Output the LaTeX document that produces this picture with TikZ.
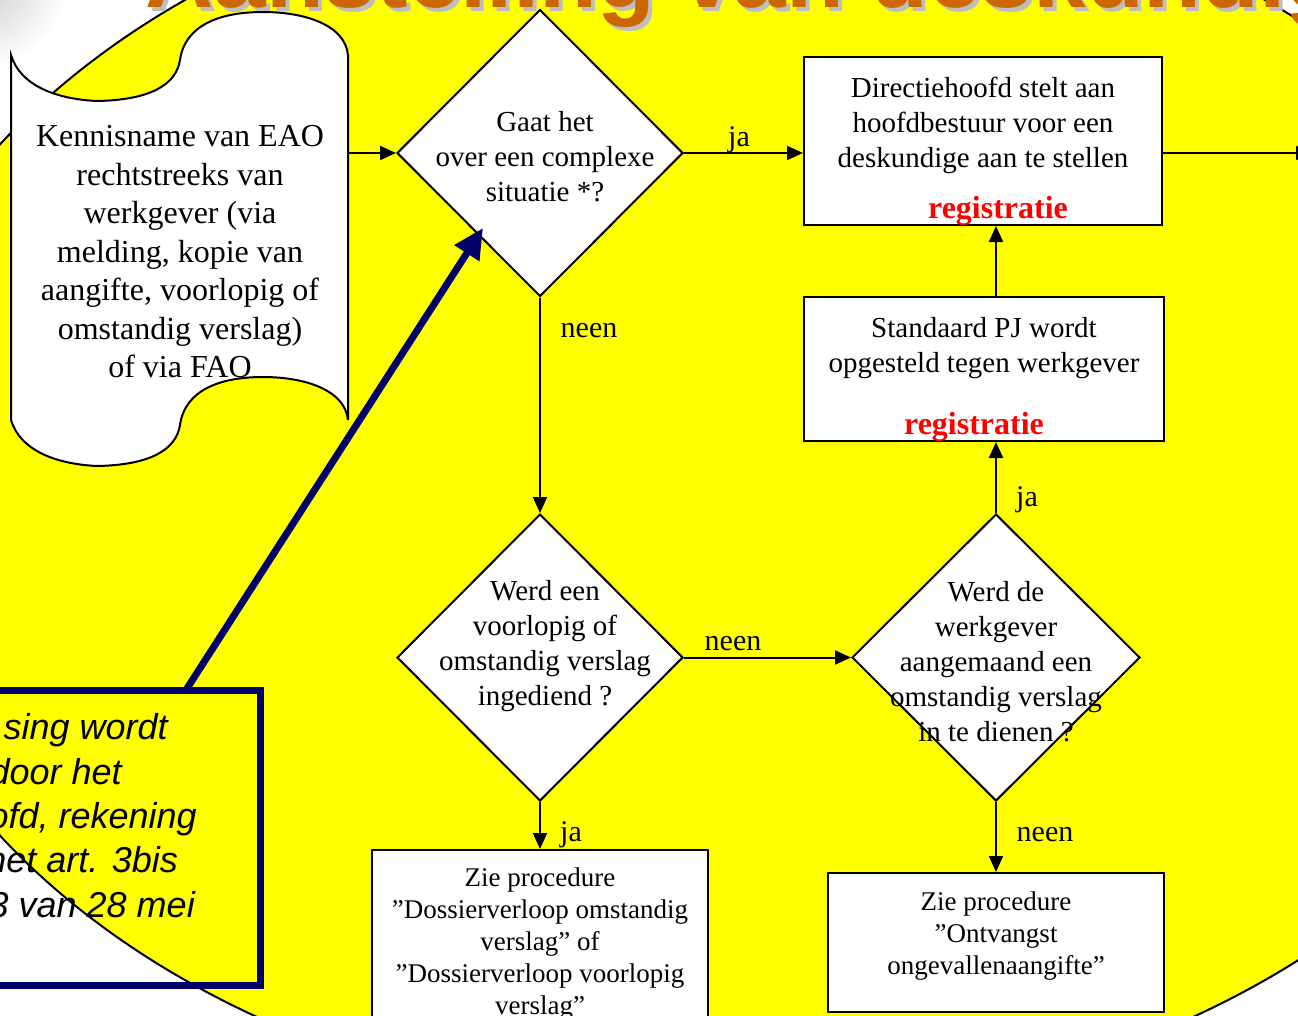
\documentclass[tikz,border=0pt]{standalone}
\usepackage{fontspec}
\setmainfont{Liberation Serif}
\newfontfamily\notesans{Liberation Sans}
\usetikzlibrary{shapes.geometric,arrows.meta}
\definecolor{flowyellow}{RGB}{255,255,0}
\definecolor{titleorange}{RGB}{204,102,0}
\definecolor{shadowgray}{RGB}{190,190,190}
\definecolor{notenavy}{RGB}{0,0,102}
\begin{document}
\begin{tikzpicture}[x=1pt,y=-1pt,
  outlined/.style={draw=black,line width=2pt,fill=white},
  decision/.style={outlined,diamond,inner sep=0pt,minimum width=286pt,minimum height=287pt},
  stepbox/.style={outlined,rectangle,inner sep=0pt},
  flowtext/.style={align=center,inner sep=0pt,font=\fontsize{29}{35}\selectfont},
  smalltext/.style={align=center,inner sep=0pt,font=\fontsize{27}{32}\selectfont},
  regtext/.style={anchor=base,inner sep=0pt,text=red,font=\bfseries\fontsize{32}{38}\selectfont},
  edgelabel/.style={anchor=base,inner sep=0pt,font=\fontsize{30}{36}\selectfont},
  flow/.style={draw=black,line width=2pt,-{Triangle[length=16pt,width=14pt]}},
  notetext/.style={anchor=base east,inner sep=0pt,font=\notesans\itshape\fontsize{36}{44}\selectfont},
  titletext/.style={anchor=base west,inner sep=0pt,font=\notesans\bfseries\fontsize{94.6}{100}\selectfont}
]
\useasboundingbox (0,0) rectangle (1298,1015);
\clip (0,0) rectangle (1298,1015);
\fill[white] (0,0) rectangle (1298,1015);

% soft grey corner
\shade[inner color=black!22,outer color=white] (-25,-25) circle [radius=95pt];

% yellow backdrop
\draw[fill=flowyellow,line width=2pt] (725,490) ellipse [x radius=870pt,y radius=625pt];

% heading
\node (titleshadow) [titletext,text=shadowgray] at (149,11) {Aanstelling van deskundige};
\node (title) [titletext,text=titleorange] at (145,7) {Aanstelling van deskundige};

% punched-tape start symbol
\node (doc) [rectangle,inner sep=0pt,minimum width=337pt,minimum height=365pt] at (179.5,237.5) {};
\draw[outlined]
  (11,55) .. controls (20,85) and (55,99) .. (97,101)
  .. controls (150,100) and (176,85) .. (180,60)
  .. controls (185,25) and (220,12) .. (263,12)
  .. controls (305,12) and (345,25) .. (348,55)
  -- (348,420)
  .. controls (345,390) and (305,377) .. (263,377)
  .. controls (220,377) and (185,390) .. (180,425)
  .. controls (176,450) and (150,465) .. (97,466)
  .. controls (55,464) and (20,450) .. (11,420)
  -- cycle;
\node (doctext) [align=center,inner sep=0pt,font=\fontsize{32}{38.5}\selectfont] at (180,252)
  {Kennisname van EAO\\rechtstreeks van\\werkgever (via\\melding, kopie van\\aangifte, voorlopig of\\omstandig verslag)\\of via FAO};

% decisions
\node (d1) [decision] at (540,153) {};
\node (d2) [decision] at (540,657.5) {};
\node (d3) [decision,minimum width=288pt] at (996,657.5) {};
\node (d1text) [flowtext] at (545,157) {Gaat het\\over een complexe\\situatie *?};
\node (d2text) [flowtext] at (545,646) {Werd een\\voorlopig of\\omstandig verslag\\ingediend ?};
\node (d3text) [flowtext] at (996,661.5) {Werd de\\werkgever\\aangemaand een\\omstandig verslag\\in te dienen ?};

% process boxes
\node (box1) [stepbox,minimum width=358pt,minimum height=168pt] at (983,141) {};
\node (box1text) [flowtext] at (983,125) {Directiehoofd stelt aan\\hoofdbestuur voor een\\deskundige aan te stellen};
\node (reg1) [regtext] at (998,218) {registratie};

\node (box2) [stepbox,minimum width=360pt,minimum height=144pt] at (984,369) {};
\node (box2text) [flowtext] at (984,348) {Standaard PJ wordt\\opgesteld tegen werkgever};
\node (reg2) [regtext] at (974,434) {registratie};

\node (box3) [stepbox,minimum width=336pt,minimum height=190pt] at (540,945) {};
\node (box3text) [smalltext] at (540,944) {Zie procedure\\”Dossierverloop omstandig\\verslag” of\\”Dossierverloop voorlopig\\verslag”};

\node (box4) [stepbox,minimum width=336pt,minimum height=139pt] at (996,942.5) {};
\node (box4text) [smalltext] at (996,936) {Zie procedure\\”Ontvangst\\ongevallenaangifte”};

% connectors
\coordinate (exit) at (1312,153);
\draw[flow] (doc.east |- d1.west) -- (d1.west);
\draw[flow] (d1.east) -- (d1.east -| box1.west);
\draw[flow] (box1.east |- d1.east) -- (exit);
\draw[flow] (d1.south) -- (d2.north);
\draw[flow] (d2.east) -- (d3.west);
\draw[flow] (d2.south) -- (box3.north);
\draw[flow] (d3.south) -- (box4.north);
\draw[flow] (d3.north) -- (d3.north |- box2.south);
\draw[flow] (box2.north -| d3.north) -- (box1.south -| d3.north);

\node (lja1) [edgelabel] at (739,146) {ja};
\node (lneen1) [edgelabel] at (589,337) {neen};
\node (lneen2) [edgelabel] at (733,650) {neen};
\node (lja2) [edgelabel] at (571,841) {ja};
\node (lja3) [edgelabel] at (1027,506) {ja};
\node (lneen3) [edgelabel] at (1045,841) {neen};

% remark box with pointer
\node (note) [draw=notenavy,line width=7pt,rectangle,inner sep=0pt,minimum width=280pt,minimum height=295pt] at (120,837.5) {};
\node (n1) [notetext] at (168,739) {sing wordt};
\node (n2) [notetext] at (122,784) {door het};
\node (n3) [notetext] at (197,828) {ofd, rekening};
\node (n4) [notetext] at (178,872) {het art. 3bis};
\node (n5) [notetext] at (195,917) {3 van 28 mei};
\coordinate (notetop) at (186,690);
\coordinate (pointer) at (483,228);
\draw[draw=notenavy,line width=7pt,-{Triangle[length=30pt,width=28pt]}] (notetop) -- (pointer);
\end{tikzpicture}
\end{document}
